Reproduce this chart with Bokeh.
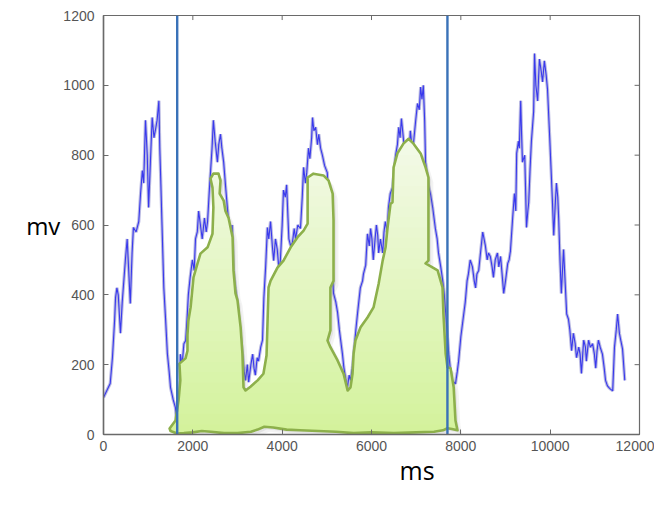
import numpy as np
from bokeh.plotting import figure
from bokeh.models import Range1d, FixedTicker, Title
from bokeh.embed import file_html
from bokeh.resources import INLINE

# ---- data ----
sig_t = [0, 150, 200, 250, 270, 300, 330, 380, 420, 490, 530, 600, 640, 670, 730, 790, 830, 870, 900, 940,
         980, 1010, 1050, 1090, 1130, 1160, 1200, 1240, 1260, 1280, 1310, 1350, 1390, 1430, 1470, 1500, 1560, 1610, 1640, 1660,
         1700, 1720, 1760, 1800, 1840, 1870, 1900, 1940, 1990, 2030, 2060, 2100, 2130, 2170, 2210, 2260, 2300, 2330, 2370, 2400,
         2430, 2460, 2500, 2550, 2580, 2620, 2650, 2690, 2740, 2800, 2840, 2880, 2910, 2950, 3000, 3050, 3110, 3150, 3180, 3220,
         3250, 3300, 3340, 3370, 3400, 3440, 3470, 3520, 3560, 3590, 3630, 3670, 3700, 3740, 3780, 3810, 3850, 3890, 3930, 3960,
         4000, 4030, 4070, 4100, 4130, 4150, 4190, 4230, 4270, 4300, 4350, 4410, 4450, 4480, 4520, 4550, 4590, 4620, 4660, 4680,
         4710, 4750, 4790, 4820, 4860, 4900, 4950, 5010, 5050, 5080, 5120, 5150, 5200, 5240, 5280, 5310, 5350, 5380, 5420, 5460,
         5500, 5530, 5570, 5600, 5650, 5690, 5750, 5800, 5820, 5870, 5910, 5950, 5980, 6010, 6040, 6080, 6110, 6140, 6160, 6200,
         6250, 6280, 6310, 6350, 6380, 6420, 6470, 6510, 6540, 6580, 6610, 6640, 6670, 6720, 6760, 6810, 6840, 6870, 6910, 6940,
         6990, 7030, 7070, 7100, 7130, 7160, 7190, 7210, 7250, 7280, 7320, 7370, 7400, 7430, 7470, 7500, 7550, 7590, 7630, 7660,
         7700, 7730, 7770, 7810, 7850, 7880, 7920, 7950, 8000, 8040, 8070, 8100, 8140, 8170, 8210, 8260, 8300, 8330, 8360, 8400,
         8440, 8490, 8520, 8550, 8590, 8620, 8660, 8700, 8730, 8770, 8820, 8850, 8890, 8930, 8960, 9000, 9050, 9080, 9110, 9160,
         9200, 9230, 9250, 9290, 9310, 9340, 9360, 9380, 9430, 9450, 9470, 9500, 9520, 9550, 9580, 9630, 9650, 9680, 9720, 9740,
         9760, 9800, 9830, 9870, 9910, 9940, 9990, 10020, 10050, 10080, 10110, 10140, 10170, 10190, 10220, 10250, 10280, 10300, 10330, 10370,
         10410, 10440, 10480, 10520, 10560, 10590, 10640, 10670, 10700, 10750, 10790, 10810, 10860, 10900, 10950, 10990, 11020, 11050, 11080, 11120,
         11170, 11210, 11240, 11280, 11310, 11350, 11400, 11440, 11480, 11510, 11550, 11580, 11620, 11670]
sig_v = [106, 146, 220, 330, 392, 420, 400, 290, 380, 500, 560, 375, 520, 593, 580, 610, 690, 756, 720, 900,
         800, 650, 780, 908, 850, 870, 900, 956, 820, 736, 600, 421, 330, 232, 180, 135, 100, 77, 30, 10,
         60, 230, 200, 260, 269, 330, 400, 450, 500, 470, 560, 580, 640, 600, 560, 620, 580, 610, 700, 760,
         820, 900, 840, 780, 830, 860, 820, 780, 700, 610, 550, 600, 470, 420, 375, 300, 232, 180, 155, 200,
         150, 200, 230, 190, 170, 220, 210, 250, 270, 390, 480, 593, 560, 610, 540, 498, 560, 530, 470, 500,
         600, 700, 680, 715, 620, 560, 540, 550, 590, 560, 600, 590, 680, 765, 720, 750, 820, 790, 850, 908,
         870, 880, 830, 860, 820, 800, 770, 750, 650, 580, 480, 404, 380, 350, 300, 270, 230, 193, 160, 135,
         170, 155, 190, 230, 300, 350, 420, 440, 460, 485, 575, 540, 590, 560, 500, 560, 600, 570, 520, 560,
         520, 580, 610, 580, 650, 690, 707, 760, 800, 830, 880, 850, 905, 840, 820, 840, 800, 870, 820, 835,
         900, 948, 930, 995, 960, 1000, 900, 780, 740, 710, 690, 650, 620, 590, 560, 520, 480, 445, 400, 350,
         280, 230, 180, 135, 150, 145, 180, 210, 280, 320, 350, 380, 440, 460, 500, 480, 440, 420, 460, 470,
         520, 580, 560, 540, 500, 520, 510, 480, 450, 500, 520, 480, 510, 450, 404, 440, 490, 500, 525, 620,
         690, 640, 805, 840, 820, 956, 860, 780, 800, 700, 593, 640, 665, 760, 840, 925, 1091, 1000, 955, 1020,
         1075, 1040, 1010, 1070, 1030, 990, 850, 760, 670, 570, 650, 720, 680, 620, 500, 404, 480, 530, 450, 345,
         330, 300, 240, 290, 260, 220, 250, 230, 175, 270, 250, 210, 270, 250, 260, 230, 190, 240, 270, 250,
         230, 190, 155, 140, 135, 130, 125, 250, 300, 345, 290, 270, 245, 155]

area_t = [1480, 1612, 1680, 1720, 1700, 1836, 1880, 1880, 1900, 1950, 2015, 2105, 2170, 2330, 2440, 2460, 2440, 2395, 2460, 2575,
          2620, 2600, 2690, 2730, 2800, 2890, 2910, 2955, 3000, 3070, 3110, 3135, 3180, 3290, 3450, 3580, 3650, 3695, 3740, 3895,
          4030, 4190, 4345, 4480, 4570, 4570, 4700, 4925, 5040, 5130, 5150, 5150, 5080, 5080, 5015, 5080, 5240, 5375, 5465, 5530,
          5575, 5600, 5640, 5755, 5910, 6045, 6160, 6250, 6315, 6360, 6425, 6470, 6495, 6580, 6715, 6830, 6940, 7100, 7210, 7275,
          7275, 7275, 7210, 7480, 7590, 7610, 7660, 7700, 7770, 7840, 7880, 7925,
          7800, 7700, 7600, 7400, 7000, 6500, 6000, 5600, 5200, 4800, 4400, 4100, 3800, 3600, 3450, 3300, 3000, 2700, 2400, 2200,
          2000, 1800, 1650, 1500]
area_v = [17, 40, 97, 155, 203, 218, 240, 285, 326, 364, 450, 490, 518, 536, 575, 650, 707, 733, 747, 747,
          727, 690, 670, 640, 620, 565, 470, 404, 384, 307, 232, 135, 126, 137, 155, 174, 226, 421, 440, 478,
          498, 536, 565, 584, 604, 736, 747, 742, 727, 690, 613, 440, 421, 298, 269, 250, 212, 174, 126, 135,
          174, 232, 269, 307, 335, 364, 432, 498, 536, 593, 660, 665, 765, 805, 833, 847, 833, 805, 765, 736,
          613, 498, 490, 470, 421, 346, 232, 193, 190, 135, 40, 12,
          16, 18, 12, 8, 6, 4, 6, 4, 8, 10, 12, 14, 20, 22, 14, 8, 4, 4, 8, 10,
          6, 4, 3, 10]

markers = [1650, 7700]
x_ticks = [0, 2000, 4000, 6000, 8000, 10000, 12000]
y_ticks = [0, 200, 400, 600, 800, 1000, 1200]

AXIS = "#6a6a6a"
LABEL = "#555555"
X0, X1, Y0, Y1 = 0, 12000, 0, 1200

p = figure(width=654, height=494, x_range=Range1d(X0, X1), y_range=Range1d(Y0, Y1),
           output_backend="svg", toolbar_location=None,
           min_border_left=103, min_border_right=15, min_border_top=15, min_border_bottom=60)
p.grid.visible = False
p.outline_line_color = AXIS
p.outline_line_width = 1.2
p.background_fill_color = "white"
p.border_fill_color = "white"

for ax in (p.xaxis[0], p.yaxis[0]):
    ax.axis_line_color = AXIS
    ax.axis_line_width = 1.5
    ax.major_tick_line_color = AXIS
    ax.major_tick_in = 5
    ax.major_tick_out = 0
    ax.minor_tick_line_color = None
    ax.major_label_text_color = LABEL
    ax.major_label_text_font = "Liberation Sans"
    ax.major_label_text_font_size = "14px"
p.xaxis.ticker = FixedTicker(ticks=x_ticks)
p.yaxis.ticker = FixedTicker(ticks=y_ticks)
p.xaxis.major_label_standoff = 6
p.yaxis.major_label_standoff = 9
p.yaxis.axis_label = "mv"
p.yaxis.axis_label_orientation = "horizontal"
p.yaxis.axis_label_text_font = "Open Sans"
p.yaxis.axis_label_text_font_style = "normal"
p.yaxis.axis_label_text_font_size = "24px"
p.yaxis.axis_label_text_color = "black"
p.yaxis.axis_label_standoff = 0

# "ms" below the axis, right of centre
p.add_layout(Title(text="ms", align="left", offset=296, text_font="Open Sans",
                   text_font_style="normal", text_font_size="25px", text_color="black",
                   standoff=-6), "below")

# inner ticks along top and right frame edges
tx = [t for t in x_ticks if X0 < t < X1]
ty = [t for t in y_ticks if Y0 < t < Y1]
p.segment(x0=tx, y0=[Y1] * len(tx), x1=tx, y1=[Y1 - 13] * len(tx), line_color=AXIS, line_width=1)
p.segment(x0=[X1] * len(ty), y0=ty, x1=[X1 - 110] * len(ty), y1=ty, line_color=AXIS, line_width=1)

# blue signal
p.line(sig_t, sig_v, line_color="#a2a2d8", line_width=3.2, line_alpha=0.75)
p.line(sig_t, sig_v, line_color="#2222ee", line_width=1.1, line_alpha=0.85)

# green area: shadow, gradient fill in slabs, outline
poly = list(zip(area_t, area_v))

def clip(pts, y0, keep_above):
    out = []
    n = len(pts)
    for i in range(n):
        cx, cy = pts[i]
        qx, qy = pts[i - 1]
        cin = cy >= y0 if keep_above else cy <= y0
        qin = qy >= y0 if keep_above else qy <= y0
        if cin:
            if not qin:
                t = (y0 - qy) / (cy - qy)
                out.append((qx + t * (cx - qx), y0))
            out.append((cx, cy))
        elif qin:
            t = (y0 - qy) / (cy - qy)
            out.append((qx + t * (cx - qx), y0))
    return out

for dx, dy, al in ((110, -14, 0.10), (60, -8, 0.14)):
    p.patch([t + dx for t in area_t], [v + dy for v in area_v], fill_color="#888888",
            fill_alpha=al, line_color=None)

bot = np.array([211, 242, 155])
top = np.array([244, 250, 234])
levels = np.linspace(0, 860, 30)
xs, ys, cols = [], [], []
for i in range(len(levels) - 1):
    lo, hi = levels[i], levels[i + 1] + 4
    sl = clip(clip(poly, lo if i > 0 else -50, True), hi, False)
    if len(sl) < 3:
        continue
    f = (levels[i] + levels[i + 1]) / 2 / 860
    c = bot + (top - bot) * f
    xs.append([q[0] for q in sl])
    ys.append([q[1] for q in sl])
    cols.append("#%02x%02x%02x" % tuple(int(round(v)) for v in c))
p.patches(xs, ys, fill_color=cols, line_color=None)
p.patch(area_t, area_v, fill_color=None, line_color="#8db04b", line_width=2.6, line_join="round")

# vertical markers
p.segment(x0=markers, y0=[Y0] * len(markers), x1=markers, y1=[Y1] * len(markers),
          line_color="#3a72b8", line_width=2.4)

open("out.html", "w").write(file_html(p, INLINE))
